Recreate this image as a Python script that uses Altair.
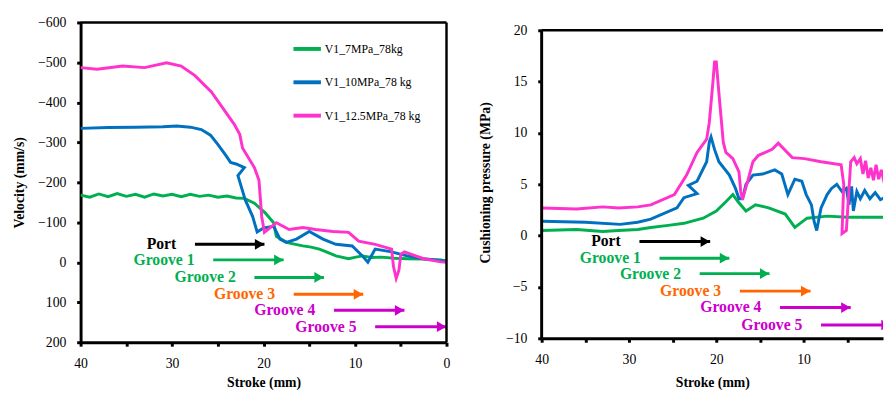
import altair as alt
import pandas as pd

SERIES = ["V1_7MPa_78kg", "V1_10MPa_78 kg", "V1_12.5MPa_78 kg"]
COLORS = ["#00B050", "#0070C0", "#FF33CC"]

# ---------------- Left panel: velocity (mm/s) vs stroke (mm) ----------------
vel_stroke_7 = [40, 39, 38, 37, 36, 35, 34, 33, 32, 31, 30, 29, 28, 27, 26, 25, 24, 23,
                22.1, 21.0, 19.8, 18.9, 18.6, 17.5, 16.5, 15.7, 14.8, 13.9, 13.0, 12.1,
                10.7, 9.9, 9.2, 8.2, 7.1, 5.7, 4.3, 2.5, 0.6, 0]
vel_7 = [-168, -163, -171, -164, -172, -165, -170, -163, -171, -166, -170, -164, -170,
         -165, -168, -163, -166, -161, -160, -148, -123, -99, -65, -50, -45, -41, -38,
         -33, -25, -16, -9, -13, -16, -12, -13, -10, -9, -8, -6, -3]

vel_stroke_10 = [40, 37, 34, 31, 29.5, 28, 26.8, 25.8, 25, 24.2, 23.6, 23.0, 22.1, 22.8,
                 22.0, 21.2, 20.7, 20.0, 18.9, 18.2, 17.5, 16.4, 15.0, 13.5, 12.1, 10.3,
                 9.2, 8.6, 7.8, 6.0, 4.3, 2.5, 0]
vel_10 = [-335, -337, -338, -339, -341, -338, -332, -318, -295, -270, -250, -246, -237,
          -217, -156, -115, -76, -86, -90, -58, -50, -58, -77, -58, -45, -41, -16, 0, -33,
          -26, -16, -9, -3]

vel_stroke_125 = [40, 38.2, 35.4, 33, 30.6, 29, 27.5, 25.7, 24.7, 23.2, 22.6, 22.3, 21.0,
                  20.5, 20.2, 19.9, 18.6, 17.2, 15.7, 14.3, 12.4, 10.7, 9.6, 7.8, 6.0, 5.8,
                  5.5, 5.2, 5.0, 4.6, 2.5, 0.6, 0]
vel_125 = [-487, -483, -491, -487, -499, -491, -467, -426, -394, -345, -320, -286, -237,
           -205, -114, -75, -99, -82, -87, -82, -77, -75, -53, -45, -33, 10, 40, 20, -20,
           -26, -9, -1, 0]

# ---------------- Right panel: cushioning pressure (MPa) vs stroke (mm) ----------------
p_stroke_7 = [40, 36, 33, 31.2, 29, 27.5, 25.5, 23.7, 21.5, 20.0, 18.9, 18.1, 17.5, 16.6,
              15.5, 14.0, 12.1, 11.0, 10.7, 9.6, 7.3, 5, 3, 0.3]
p_7 = [0.5, 0.6, 0.4, 0.5, 0.6, 0.8, 1.0, 1.2, 1.7, 2.4, 3.3, 4.0, 3.3, 2.4, 3.0, 2.7, 2.1,
       0.8, 1.0, 1.7, 1.9, 1.8, 1.8, 1.8]

p_stroke_10 = [40, 35, 31, 29, 27.5, 24.5, 23.7, 22.2, 23.2, 22.2, 21.1, 20.8, 20.6, 20.2,
               19.7, 18.5, 17.8, 17.4, 17.0, 16.6, 15.8, 14.7, 13.3, 12.5, 11.8, 11.0, 10.2,
               9.7, 9.1, 8.8, 8.5, 8.0, 7.3, 6.8, 6.2, 5.6, 5.1, 4.8, 4.5, 4.3, 3.9, 3.5,
               3.0, 2.4, 1.8, 1.2, 0.5]
p_10 = [1.4, 1.3, 1.1, 1.3, 1.6, 2.7, 3.7, 4.1, 4.9, 5.3, 7.2, 9.1, 9.6, 8.4, 7.2, 5.9, 4.6,
        3.6, 3.6, 5.0, 5.9, 6.0, 6.4, 6.0, 4.0, 5.5, 5.3, 4.0, 3.0, 1.4, 0.5, 2.7, 4.0, 4.6,
        5.0, 4.3, 4.6, 3.0, 4.8, 2.4, 4.3, 3.6, 4.4, 3.6, 4.2, 3.5, 3.8]

p_stroke_125 = [40, 36, 33, 31.2, 29, 27.5, 24.8, 23.4, 22.2, 21.1, 20.8, 20.4, 20.2, 20.0,
                19.7, 19.2, 18.9, 18.1, 17.4, 17.2, 17.0, 16.4, 15.8, 15.2, 13.6, 12.9, 11.3,
                9.9, 8.0, 5.7, 5.4, 5.6, 5.1, 4.6, 4.2, 3.9, 3.5, 3.2, 2.9, 2.6, 2.3, 2.0,
                1.7, 1.4, 1.1, 0.8, 0.5]
p_125 = [2.7, 2.6, 2.8, 2.7, 2.8, 3.0, 4.0, 5.9, 8.1, 9.4, 11.0, 14.8, 16.9, 16.9, 13.9, 9.1,
         8.1, 7.5, 6.2, 4.3, 3.5, 5.3, 7.2, 7.8, 8.4, 9.0, 7.6, 7.5, 7.2, 6.9, 5.0, 0.2, 0.5,
         7.2, 7.6, 7.0, 7.5, 6.0, 7.3, 5.6, 6.6, 5.4, 6.9, 5.5, 6.4, 5.3, 6.0]

# ---------------- Annotations (port / groove arrows) ----------------
ann_labels = ["Port", "Groove 1", "Groove 2", "Groove 3", "Groove 4", "Groove 5"]
ann_colors = ["#000000", "#00B050", "#00B050", "#FF6600", "#CC00CC", "#CC00CC"]
left_arrow_start = [27.5, 25.5, 21.0, 16.7, 12.3, 7.8]
left_arrow_end = [19.9, 17.8, 13.4, 9.1, 4.6, 0.0]
left_arrow_y = [-45, -6, 38, 80, 120, 161]
right_arrow_start = [28.8, 26.5, 21.9, 17.3, 12.7, 8.0]
right_arrow_end = [20.7, 18.5, 13.9, 9.2, 4.6, 0.0]
right_arrow_y = [-0.57, -2.2, -3.7, -5.4, -7.0, -8.7]

FONT = "Liberation Serif, serif"


def series_frame(strokes, values, name):
    return pd.DataFrame({"stroke": strokes, "value": values, "series": name,
                         "order": list(range(len(strokes)))})


left_df = pd.concat([
    series_frame(vel_stroke_7, vel_7, SERIES[0]),
    series_frame(vel_stroke_10, vel_10, SERIES[1]),
    series_frame(vel_stroke_125, vel_125, SERIES[2]),
])
right_df = pd.concat([
    series_frame(p_stroke_7, p_7, SERIES[0]),
    series_frame(p_stroke_10, p_10, SERIES[1]),
    series_frame(p_stroke_125, p_125, SERIES[2]),
])
left_ann = pd.DataFrame({"label": ann_labels, "c": ann_colors, "x0": left_arrow_start,
                         "x1": left_arrow_end, "y": left_arrow_y})
right_ann = pd.DataFrame({"label": ann_labels, "c": ann_colors, "x0": right_arrow_start,
                          "x1": right_arrow_end, "y": right_arrow_y})

color = alt.Color(
    "series:N",
    scale=alt.Scale(domain=SERIES, range=COLORS),
    legend=alt.Legend(
        title=None, orient="none", legendX=215, legendY=11, symbolType="stroke",
        symbolStrokeWidth=4, symbolSize=784, labelFont=FONT, labelFontSize=12,
        labelColor="black", rowPadding=10, labelOffset=2, padding=0,
    ),
)


def panel(df, ann, xdomain, xvalues, ydomain, yreverse, yvalues, ytitle, w, h,
          ytitle_pad, xtitle_pad, x_offset, y_domain_line, frame_rules):
    x_enc = alt.X("stroke:Q", scale=alt.Scale(domain=xdomain, nice=False, zero=False),
                  axis=alt.Axis(values=xvalues,
                                labelExpr="datum.value % 10 === 0 ? datum.label : ''",
                                title="Stroke (mm)", tickSize=4, tickWidth=3,
                                domainWidth=3, labelPadding=11, titlePadding=xtitle_pad,
                                labelFlush=False, offset=x_offset, grid=False))
    y_enc = alt.Y("value:Q", scale=alt.Scale(domain=ydomain, nice=False, zero=False,
                                             reverse=yreverse),
                  axis=alt.Axis(values=yvalues, title=ytitle, tickSize=4, tickWidth=3,
                                domain=y_domain_line, domainWidth=3, labelPadding=11,
                                labelFlush=False, titlePadding=ytitle_pad, grid=False))
    lines = alt.Chart(df).mark_line(strokeWidth=3, clip=True).encode(
        x=x_enc, y=y_enc, color=color, order=alt.Order("order:Q"))
    shafts = alt.Chart(ann).mark_rule(strokeWidth=3, clip=True).encode(
        x="x0:Q", x2="x1:Q", y="y:Q", stroke=alt.Stroke("c:N", scale=None))
    heads = alt.Chart(ann).mark_point(shape="triangle-right", filled=True, size=120,
                                      opacity=1, xOffset=-5, clip=True).encode(
        x="x1:Q", y="y:Q", fill=alt.Fill("c:N", scale=None))
    texts = alt.Chart(ann).mark_text(align="right", baseline="middle", dx=-19, font=FONT,
                                     fontSize=16, fontWeight="bold").encode(
        x="x0:Q", y="y:Q", text="label:N", fill=alt.Fill("c:N", scale=None))
    layers = [lines, shafts, heads, texts]
    for enc, sw in frame_rules:
        layers.append(alt.Chart(df.head(1)).mark_rule(strokeWidth=sw, color="black")
                      .encode(**enc))
    return alt.layer(*layers).properties(width=w, height=h)


left = panel(left_df, left_ann, [40, 0], list(range(0, 41, 5)), [-600, 200], True,
             list(range(-600, 201, 100)), "Velocity (mm/s)", 373, 326, 11, 5, 0, True,
             [({"y": alt.datum(-600)}, 2.5), ({"x": alt.datum(0)}, 2.5)])

# Right panel: pixel scale 10.467 px/MPa; domain padded so the -10..20 frame sits lower
right = panel(right_df, right_ann, [40, 0.9], list(range(5, 41, 5)), [-10.38, 20.76], False,
              list(range(-10, 21, 5)), "Cushioning pressure (MPa)", 348, 326, 13, 9, -4,
              False,
              [({"y": alt.datum(20)}, 2.5),
               ({"x": alt.datum(40), "y": alt.datum(-10), "y2": alt.datum(20)}, 3)])

chart = alt.hconcat(left, right, spacing=29).resolve_scale(
    color="shared").configure(
    padding={"left": 5, "top": 4, "right": 0, "bottom": 0},
    font=FONT,
).configure_view(stroke=None).configure_axis(
    labelFont=FONT, titleFont=FONT, labelFontSize=14, titleFontSize=14,
    titleFontWeight="bold", labelColor="black", titleColor="black",
    domainColor="black", tickColor="black",
)

chart.save("out.html", embed_options={"renderer": "svg", "actions": False})
